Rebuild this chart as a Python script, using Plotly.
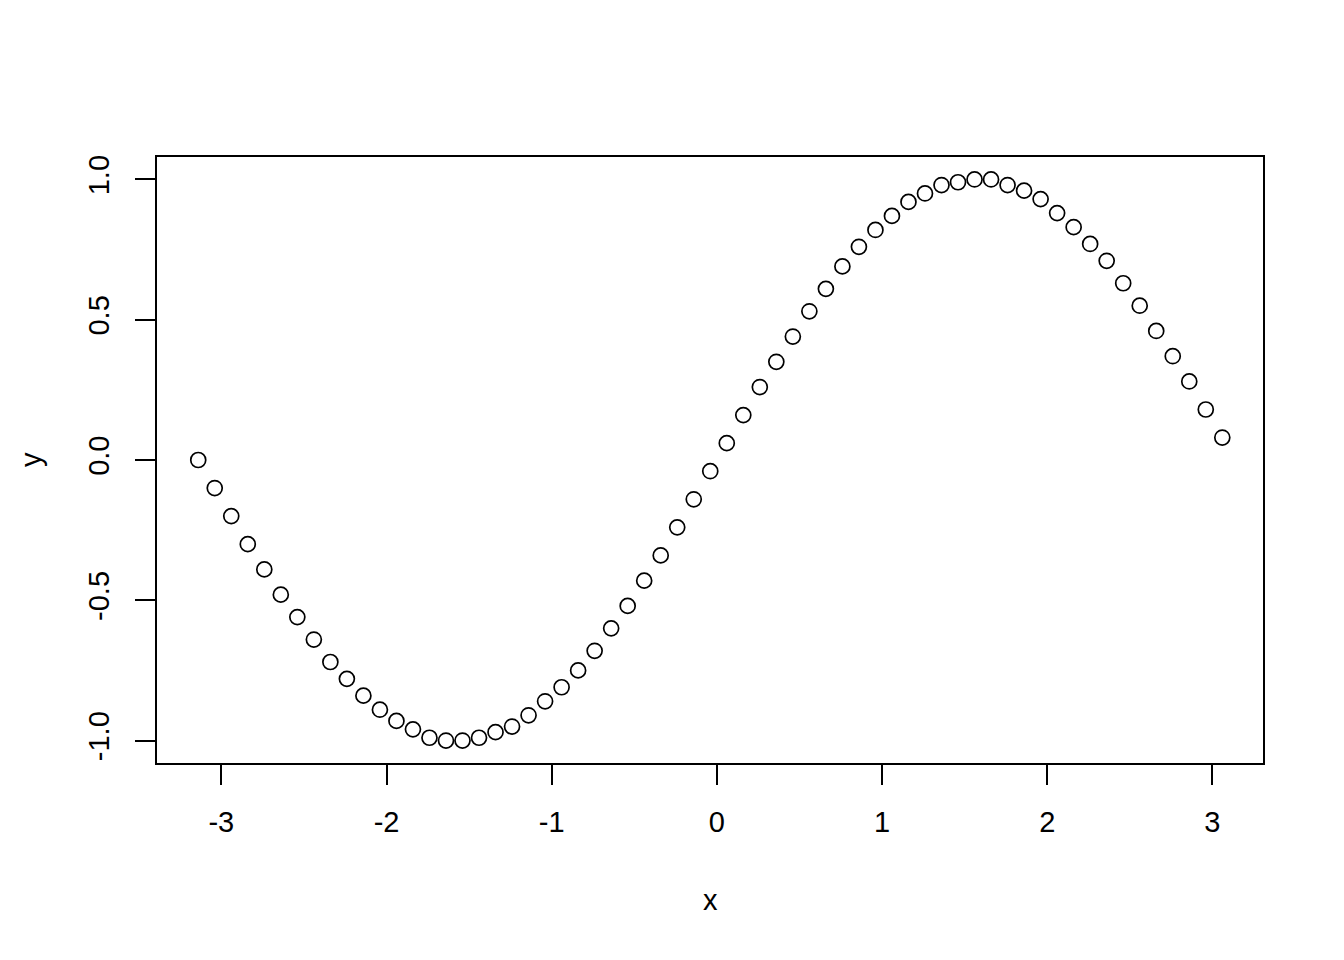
import plotly.graph_objects as go

x_vals = [-3.14, -3.04, -2.94, -2.84, -2.74, -2.64, -2.54, -2.44, -2.34, -2.24,
          -2.14, -2.04, -1.94, -1.84, -1.74, -1.64, -1.54, -1.44, -1.34, -1.24,
          -1.14, -1.04, -0.94, -0.84, -0.74, -0.64, -0.54, -0.44, -0.34, -0.24,
          -0.14, -0.04, 0.06, 0.16, 0.26, 0.36, 0.46, 0.56, 0.66, 0.76,
          0.86, 0.96, 1.06, 1.16, 1.26, 1.36, 1.46, 1.56, 1.66, 1.76,
          1.86, 1.96, 2.06, 2.16, 2.26, 2.36, 2.46, 2.56, 2.66, 2.76,
          2.86, 2.96, 3.06]
y_vals = [0.00, -0.10, -0.20, -0.30, -0.39, -0.48, -0.56, -0.64, -0.72, -0.78,
          -0.84, -0.89, -0.93, -0.96, -0.99, -1.00, -1.00, -0.99, -0.97, -0.95,
          -0.91, -0.86, -0.81, -0.75, -0.68, -0.60, -0.52, -0.43, -0.34, -0.24,
          -0.14, -0.04, 0.06, 0.16, 0.26, 0.35, 0.44, 0.53, 0.61, 0.69,
          0.76, 0.82, 0.87, 0.92, 0.95, 0.98, 0.99, 1.00, 1.00, 0.98,
          0.96, 0.93, 0.88, 0.83, 0.77, 0.71, 0.63, 0.55, 0.46, 0.37,
          0.28, 0.18, 0.08]
x_ticks = [-3, -2, -1, 0, 1, 2, 3]
x_tick_labels = ["-3", "-2", "-1", "0", "1", "2", "3"]
y_ticks = [-1.0, -0.5, 0.0, 0.5, 1.0]
y_tick_labels = ["-1.0", "-0.5", "0.0", "0.5", "1.0"]

FONT = "Liberation Sans, Arial, sans-serif"

fig = go.Figure()
fig.add_trace(go.Scatter(
    x=x_vals, y=y_vals, mode="markers",
    marker=dict(symbol="circle-open", size=15, color="black", line=dict(width=1.7, color="black")),
    showlegend=False,
))

axis_common = dict(
    showline=True, linecolor="black", linewidth=2, mirror=True,
    ticks="outside", ticklen=20, tickwidth=2, tickcolor="black",
    showgrid=False, zeroline=False,
    tickfont=dict(family=FONT, size=29, color="black"),
)

fig.update_xaxes(range=[-3.3896, 3.3064], tickvals=x_ticks, ticktext=x_tick_labels,
                 ticklabelstandoff=12, **axis_common)
fig.update_yaxes(range=[-1.08, 1.08], tickvals=y_ticks, ticktext=y_tick_labels,
                 tickangle=-90, ticklabelstandoff=14, **axis_common)

fig.update_layout(
    width=1336, height=952,
    margin=dict(l=149, r=81, t=149, b=197),
    plot_bgcolor="white", paper_bgcolor="white",
    font=dict(family=FONT, size=29, color="black"),
    annotations=[
        dict(text="x", xref="paper", yref="paper", x=0.5, y=0, yanchor="middle",
             xanchor="center", yshift=-137, showarrow=False,
             font=dict(family=FONT, size=29, color="black")),
        dict(text="y", xref="paper", yref="paper", x=0, y=0.5, xanchor="center",
             yanchor="middle", xshift=-126, textangle=-90, showarrow=False,
             font=dict(family=FONT, size=29, color="black")),
    ],
)

fig.write_html("out.html")
